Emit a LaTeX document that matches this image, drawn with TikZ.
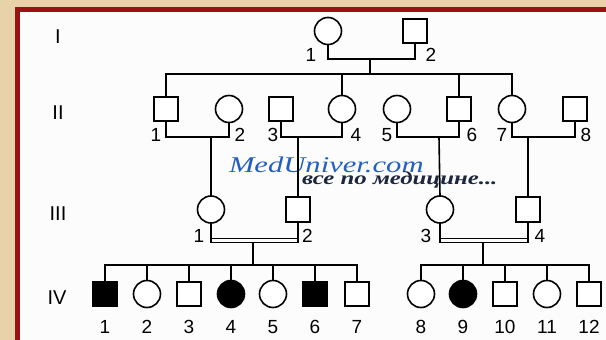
\documentclass[tikz,border=0pt]{standalone}
\usepackage{fontspec}
\setmainfont{Liberation Sans}
\newfontfamily\wmfont{Liberation Serif}
\usepackage{graphicx}
\definecolor{parch}{RGB}{231,211,167}
\definecolor{framered}{RGB}{155,18,18}
\definecolor{wmblue}{RGB}{35,95,195}
\definecolor{wmdark}{RGB}{28,38,60}
\begin{document}
\begin{tikzpicture}[x=1pt,y=-1pt,
  every node/.style={inner sep=0pt, outer sep=0pt},
  ln/.style={line width=1.6pt, line join=miter},
  male/.style={draw, rectangle, line width=1.6pt, minimum size=24.5pt, fill=white},
  female/.style={draw, circle, line width=1.6pt, minimum size=27pt, fill=white},
  aff/.style={fill=black},
  num/.style={font=\fontsize{19}{19}\selectfont},
  gen/.style={font=\fontsize{20}{20}\selectfont},
]
\useasboundingbox (0,0) rectangle (606,340);
\fill[parch] (0,0) rectangle (606,340);
\fill[framered] (15,7) rectangle (606,340);
\fill[white!99!black] (20,12) rectangle (606,340);

% watermark
\node[anchor=base west, text=wmblue, text depth=0pt] (wm1) at (229,172)
  {\scalebox{1.36}[1]{\wmfont\itshape\fontsize{22.5}{22.5}\selectfont MedUniver.com}};
\node[anchor=base west, text=wmdark, text height=9pt] (wm2) at (302,184.5)
  {\scalebox{1.34}[1]{\wmfont\itshape\bfseries\fontsize{18.5}{18.5}\selectfont все по медицине...}};

% generation labels
\node[gen] (gI) at (58,36.5) {I};
\node[gen] (gII) at (58,113) {II};
\node[gen] (gIII) at (58,213.5) {III};
\node[gen] (gIV) at (57,298) {IV};

% generation I
\node[female] (i1) at (328,31) {};
\node[male] (i2) at (415,31) {};
\node[num] (li1) at (311,55) {1};
\node[num] (li2) at (431,55) {2};

% generation II
\node[male] (ii1) at (166,109) {};
\node[female] (ii2) at (229,109) {};
\node[male] (ii3) at (281,109) {};
\node[female] (ii4) at (342,109) {};
\node[female] (ii5) at (397,109) {};
\node[male] (ii6) at (459,109) {};
\node[female] (ii7) at (512,109) {};
\node[male] (ii8) at (575,109) {};
\node[num] (lii1) at (156,135) {1};
\node[num] (lii2) at (240,135) {2};
\node[num] (lii3) at (273,135) {3};
\node[num] (lii4) at (356,135) {4};
\node[num] (lii5) at (387,135) {5};
\node[num] (lii6) at (472,135) {6};
\node[num] (lii7) at (502,135) {7};
\node[num] (lii8) at (586,135) {8};

% generation III
\node[female] (iii1) at (211,209.5) {};
\node[male] (iii2) at (298,209.5) {};
\node[female] (iii3) at (440,209.5) {};
\node[male] (iii4) at (528,209.5) {};
\node[num] (liii1) at (199,236) {1};
\node[num] (liii2) at (307.5,236) {2};
\node[num] (liii3) at (426,236) {3};
\node[num] (liii4) at (540,236) {4};

% generation IV
\node[male, aff] (iv1) at (105,294) {};
\node[female] (iv2) at (147,294) {};
\node[male] (iv3) at (189,294) {};
\node[female, aff] (iv4) at (231,294) {};
\node[female] (iv5) at (273,294) {};
\node[male, aff] (iv6) at (315,294) {};
\node[male] (iv7) at (357,294) {};
\node[female] (iv8) at (421,294) {};
\node[female, aff] (iv9) at (463,294) {};
\node[male] (iv10) at (505,294) {};
\node[female] (iv11) at (547,294) {};
\node[male] (iv12) at (589,294) {};
\foreach \k/\x in {1/105,2/147,3/189,4/231,5/273,6/315,7/357,8/421,9/463,10/505,11/547,12/589}
  \node[num] (liv\k) at (\x,327) {\k};

% junction coordinates
\coordinate (m1) at (370,59);
\coordinate (s1) at (370,74);
\coordinate (c1) at (211,137);
\coordinate (c2) at (298,137);
\coordinate (c3) at (439,137);
\coordinate (c4) at (528,137);
\coordinate (dt1) at (253,238.5);
\coordinate (db1) at (253,242.5);
\coordinate (dt2) at (483,238.5);
\coordinate (db2) at (483,242.5);
\coordinate (f1) at (253,265);
\coordinate (f2) at (483,265);

% generation I couple and sibship
\draw[ln] (i1.south) |- (m1) -| (i2.south);
\draw[ln] (m1) -- (s1);
\draw[ln] (ii1.north) |- (s1);
\draw[ln] (ii7.north) |- (s1);
\draw[ln] (ii4.north) -- (ii4.north |- s1);
\draw[ln] (ii6.north) -- (ii6.north |- s1);

% generation II couples
\draw[ln] (ii1.south) |- (c1) -| (ii2.south);
\draw[ln] (ii3.south) |- (c2) -| (ii4.south);
\draw[ln] (ii5.south) |- (c3) -| (ii6.south);
\draw[ln] (ii7.south) |- (c4) -| (ii8.south);
\draw[ln] (c1) -- (iii1.north);
\draw[ln] (c2) -- (iii2.north);
\draw[ln] (c3) -- (iii3.north);
\draw[ln] (c4) -- (iii4.north);

% consanguineous marriages (double lines)
\draw[ln] (iii1.south) |- (db1) -| (iii2.south);
\draw[line width=1.3pt] (iii1.south |- dt1) -- (iii2.south |- dt1);
\draw[ln] (iii3.south) |- (db2) -| (iii4.south);
\draw[line width=1.3pt] (iii3.south |- dt2) -- (iii4.south |- dt2);
\draw[ln] (db1) -- (f1);
\draw[ln] (db2) -- (f2);

% generation IV sibships
\draw[ln] (iv1.north) |- (f1);
\draw[ln] (iv7.north) |- (f1);
\foreach \n in {iv2,iv3,iv4,iv5,iv6}
  \draw[ln] (\n.north) -- (\n.north |- f1);
\draw[ln] (iv8.north) |- (f2);
\draw[ln] (iv12.north) |- (f2);
\foreach \n in {iv9,iv10,iv11}
  \draw[ln] (\n.north) -- (\n.north |- f2);
\end{tikzpicture}
\end{document}
